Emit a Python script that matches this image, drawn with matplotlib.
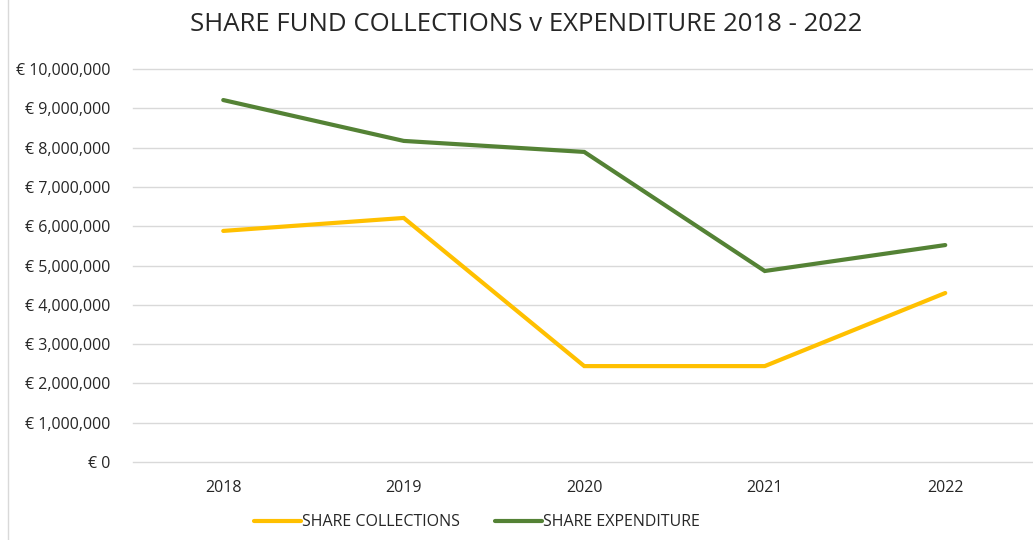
import matplotlib.pyplot as plt
from matplotlib.ticker import FuncFormatter

# Data
years = ['2018', '2019', '2020', '2021', '2022']
collections = [5880000, 6210000, 2440000, 2440000, 4300000]
expenditure = [9210000, 8170000, 7890000, 4860000, 5520000]

plt.rcParams['font.family'] = ['Open Sans', 'DejaVu Sans']

fig = plt.figure(figsize=(10.33, 5.4), dpi=100)
ax = fig.add_axes([133 / 1033, 78 / 540, 900 / 1033, 393 / 540])

x = range(len(years))
l1, = ax.plot(x, collections, color='#FFC000', lw=3, solid_capstyle='round',
              solid_joinstyle='miter', label='SHARE COLLECTIONS')
l2, = ax.plot(x, expenditure, color='#548235', lw=3, solid_capstyle='round',
              solid_joinstyle='miter', label='SHARE EXPENDITURE')

ax.set_xlim(-0.5, -0.5 + 900 / 180.5)
ax.set_ylim(0, 10000000)
ax.set_yticks(range(0, 10000001, 1000000))
ax.yaxis.set_major_formatter(FuncFormatter(lambda v, p: '€ {:,.0f}'.format(v)))
ax.set_xticks(list(x))
ax.set_xticklabels(years)

ax.grid(axis='y', color='#d9d9d9', lw=1)
for gl in ax.get_ygridlines():
    gl.set_clip_on(False)
ax.set_axisbelow(True)
for s in ax.spines.values():
    s.set_visible(False)
ax.tick_params(length=0, labelsize=11.5, colors='#262626')
ax.tick_params(axis='y', pad=16)
ax.tick_params(axis='x', pad=13)

fig.text(0.509, 0.955, 'SHARE FUND COLLECTIONS v EXPENDITURE 2018 - 2022',
         ha='center', va='center', fontsize=18.5, color='#262626')

fig.legend(handles=[l1, l2], loc='center', bbox_to_anchor=(0.462, 0.033),
           ncol=2, frameon=False, fontsize=11.5, handlelength=2.9,
           handletextpad=0.1, columnspacing=2.2, labelcolor='#262626')

# left border of the chart area
fig.add_artist(plt.Line2D([8 / 1033, 8 / 1033], [0, 1], color='#d9d9d9', lw=1))

fig.savefig('out.png', dpi=100)
